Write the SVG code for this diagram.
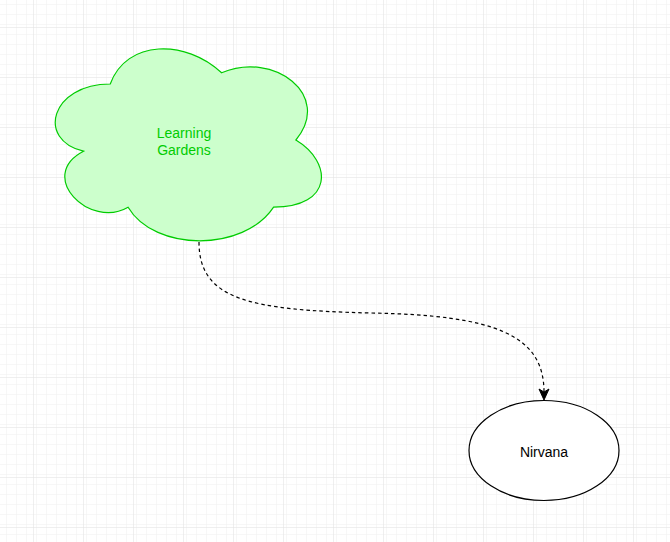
<svg xmlns="http://www.w3.org/2000/svg" width="670" height="542" viewBox="0 0 670 542">
  <defs>
    <pattern id="minor" x="3" y="7" width="10" height="10" patternUnits="userSpaceOnUse">
      <path d="M 10 0 L 0 0 0 10" fill="none" stroke="#efefef" stroke-width="1"/>
    </pattern>
    <pattern id="major" x="33" y="27" width="50" height="50" patternUnits="userSpaceOnUse">
      <rect width="50" height="50" fill="url(#minor)"/>
      <path d="M 50 0 L 0 0 0 50" fill="none" stroke="#e0e0e0" stroke-width="1"/>
    </pattern>
    <style>
      .lbl { font-family: "Liberation Sans", Arial, sans-serif; font-size: 14px; text-anchor: middle; }
      .edge { fill: none; stroke: #000; stroke-width: 1.2; stroke-dasharray: 3.5 3; }
    </style>
  </defs>
  <rect width="670" height="542" fill="#ffffff"/>
  <rect width="670" height="542" fill="url(#major)"/>

  <g id="connectors">
    <path class="edge" d="M 199 242 C 199 300 250 310 370 313 C 495 315 544 335 544 392"/>
    <path d="M 544 400 L 539 389 L 544 392 L 549 389 Z" fill="#000" stroke="#000" stroke-width="1"/>
  </g>

  <g id="learning-gardens">
    <path d="M 110.25 84 C 50.85 84 36 140 83.5 151.2 C 36 175.8 89.5 229.6 128.1 207.2 C 154.8 252 243.9 252 273.6 207.2 C 333 207.2 333 162.4 295.9 140 C 333 95.2 273.6 50.4 221.6 72.8 C 185.9 39.2 126.5 39.2 110.25 84 Z" fill="#ccffcc" stroke="#00cc00" stroke-width="1.2"/>
    <text class="lbl" x="184" y="138" fill="#00cc00">Learning</text>
    <text class="lbl" x="184" y="155" fill="#00cc00">Gardens</text>
  </g>

  <g id="nirvana">
    <ellipse cx="544" cy="450.5" rx="75" ry="50" fill="#ffffff" stroke="#000" stroke-width="1.2"/>
    <text class="lbl" x="544" y="456.5" fill="#000">Nirvana</text>
  </g>
</svg>
